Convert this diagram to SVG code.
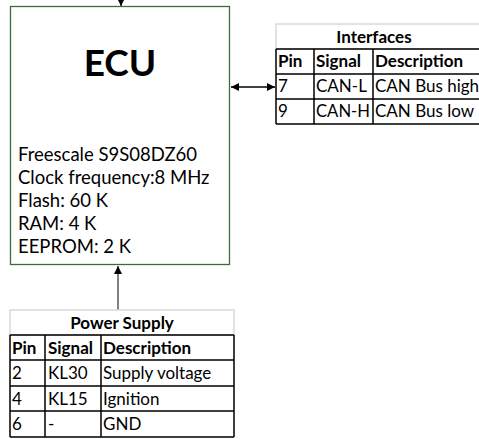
<svg xmlns="http://www.w3.org/2000/svg" width="479" height="439" viewBox="0 0 479 439">
<style>
text{font-family:Lato,"Liberation Sans",sans-serif;fill:#000}
.t{font-size:17px}
.e{font-size:18.5px}
.b{font-size:17px;font-weight:bold}
.h{fill:#fff;stroke:#d9d9d9;stroke-width:1.5}
.c{fill:none;stroke:#000;stroke-width:1.5}
.conn{stroke:#000;stroke-width:1.3;fill:none}
</style>
<defs>
<marker id="ah" viewBox="0 0 10 10" refX="10" refY="5" markerWidth="8" markerHeight="8" markerUnits="userSpaceOnUse" orient="auto-start-reverse">
<path d="M0,0 L10,5 L0,10 z" fill="#000"/>
</marker>
</defs>
<g id="connectors">
<line class="conn" x1="121" y1="0" x2="121" y2="6" marker-end="url(#ah)"/>
<line x1="118" y1="310" x2="118" y2="266" stroke="#808080" stroke-width="2" marker-end="url(#ah)"/>
<line class="conn" x1="231" y1="87" x2="275" y2="87" marker-start="url(#ah)" marker-end="url(#ah)"/>
</g>
<g id="ecu">
<rect x="10.5" y="6.5" width="219" height="258" fill="#fff" stroke="#3d6b3d" stroke-width="1.3"/>
<text x="120" y="76" text-anchor="middle" style="font-size:37px;font-weight:bold">ECU</text>
<text class="e" x="18" y="161">Freescale S9S08DZ60</text>
<text class="e" x="18" y="184">Clock frequency:8 MHz</text>
<text class="e" x="18" y="207">Flash: 60 K</text>
<text class="e" x="18" y="230">RAM: 4 K</text>
<text class="e" x="18" y="253">EEPROM: 2 K</text>
</g>
<g id="interfaces">
<rect class="h" x="276" y="24" width="210" height="25"/>
<text class="b" x="374" y="43" text-anchor="middle">Interfaces</text>
<path class="c" d="M276,49 H486 M276,74 H486 M276,99 H486 M276,124 H486 M276,49 V124 M314,49 V124 M373,49 V124"/>
<text class="b" x="278" y="67">Pin</text>
<text class="b" x="316" y="67">Signal</text>
<text class="b" x="375" y="67">Description</text>
<text class="t" x="278" y="92">7</text>
<text class="t" x="316" y="92">CAN-L</text>
<text class="t" x="375" y="92">CAN Bus high</text>
<text class="t" x="278" y="117">9</text>
<text class="t" x="316" y="117" textLength="54" lengthAdjust="spacingAndGlyphs">CAN-H</text>
<text class="t" x="375" y="117">CAN Bus low</text>
</g>
<g id="power">
<rect class="h" x="10" y="310" width="224" height="25"/>
<text class="b" x="122" y="329" text-anchor="middle">Power Supply</text>
<path class="c" d="M10,335 H234 M10,360 H234 M10,386 H234 M10,411 H234 M10,437 H234 M10,335 V437 M234,335 V437 M45,335 V437 M101,335 V437"/>
<text class="b" x="12" y="354">Pin</text>
<text class="b" x="48" y="354">Signal</text>
<text class="b" x="103" y="354">Description</text>
<text class="t" x="12" y="379">2</text>
<text class="t" x="48" y="379">KL30</text>
<text class="t" x="103" y="379">Supply voltage</text>
<text class="t" x="12" y="405">4</text>
<text class="t" x="48" y="405">KL15</text>
<text class="t" x="103" y="405">Ignition</text>
<text class="t" x="12" y="430">6</text>
<text class="t" x="48" y="430">-</text>
<text class="t" x="103" y="430">GND</text>
</g>
</svg>
